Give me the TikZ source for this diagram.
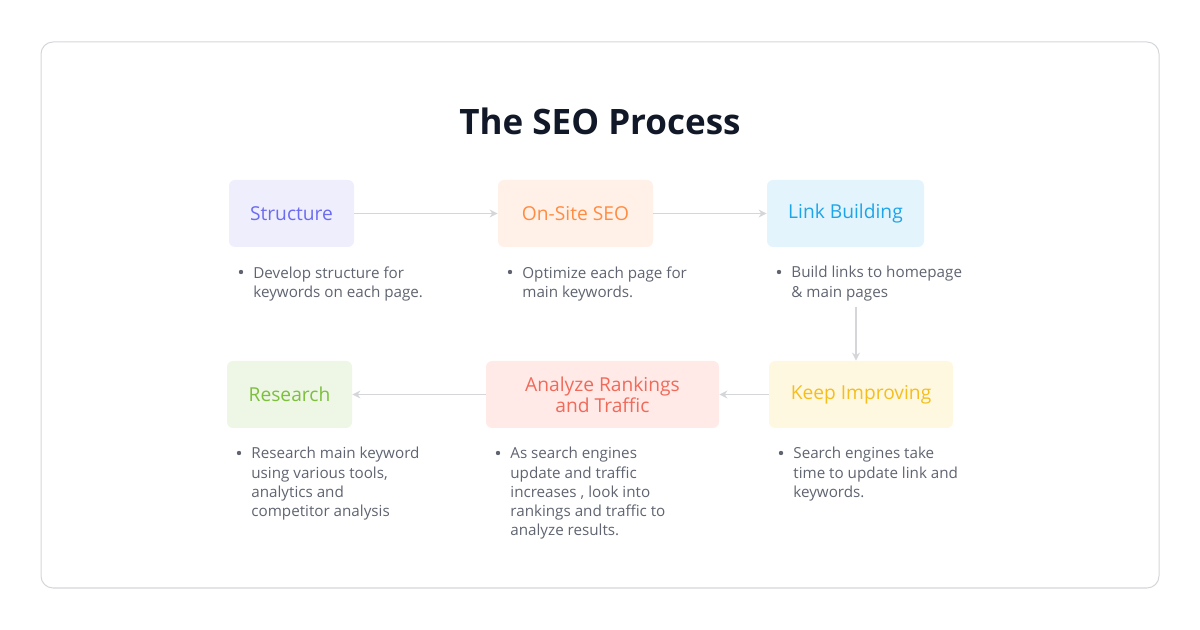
\documentclass[tikz,border=0pt]{standalone}
\usepackage{fontspec}
\setmainfont{Open Sans}
\usetikzlibrary{arrows.meta}
\definecolor{txt}{HTML}{5F6470}
\definecolor{ln}{HTML}{D4D6DA}
\definecolor{f1}{HTML}{EEEEFC}\definecolor{c1}{HTML}{6C6CF0}
\definecolor{f2}{HTML}{FFF1E8}\definecolor{c2}{HTML}{FF8C42}
\definecolor{f3}{HTML}{E3F4FC}\definecolor{c3}{HTML}{1EA5E9}
\definecolor{f4}{HTML}{EEF6E6}\definecolor{c4}{HTML}{7CBF3C}
\definecolor{f5}{HTML}{FFEAE8}\definecolor{c5}{HTML}{F06A5A}
\definecolor{f6}{HTML}{FFF8E0}\definecolor{c6}{HTML}{F5BE1E}
\definecolor{ttl}{HTML}{111827}
\begin{document}
\begin{tikzpicture}[x=0.5pt,y=-0.5pt,
 box/.style={rounded corners=3pt,inner sep=0pt,align=center,font=\fontsize{9.6}{10.5}\selectfont},
 bul/.style={anchor=north west,inner sep=0pt,align=left,text=txt,font=\fontsize{7.6}{9.6}\selectfont},
 dot/.style={circle,fill=txt,inner sep=0pt,minimum size=2.2pt},
 arr/.style={draw=ln,line width=0.6pt,-{Stealth[length=4pt,width=4pt]}}]
\useasboundingbox (0,0) rectangle (1200,630);
\node[draw=ln,line width=0.5pt,rounded corners=6pt,minimum width=559pt,minimum height=273pt,inner sep=0pt] (frame) at (600,315) {};
\node[font=\fontsize{17.5}{20}\selectfont\bfseries,text=ttl] (title) at (600,121) {The SEO Process};
\newcommand{\bx}[6]{\node[box,fill=#4,text=#5,minimum width=#3*0.5pt,minimum height=33.5pt] (#1) at (#2) {#6};}
\bx{s}{291.5,213.5}{125}{f1}{c1}{Structure}
\bx{o}{575.5,213.5}{155}{f2}{c2}{On-Site SEO}
\bx{l}{845.5,213.5}{157}{f3}{c3}{Link Building}
\bx{r}{289.5,394.5}{125}{f4}{c4}{Research}
\bx{a}{602.5,394.5}{233}{f5}{c5}{Analyze Rankings\\and Traffic}
\bx{k}{861,394.5}{184}{f6}{c6}{Keep Improving}
\node[dot] (d1) at (241,272) {}; \node[bul] (t1) at (253,266) {Develop structure for\\keywords on each page.};
\node[dot] (d2) at (510,272) {}; \node[bul] (t2) at (522,266) {Optimize each page for\\main keywords.};
\node[dot] (d3) at (779,272) {}; \node[bul] (t3) at (791,266) {Build links to homepage\\\& main pages};
\node[dot] (d4) at (239,453) {}; \node[bul] (t4) at (251,447) {Research main keyword\\using various tools,\\analytics and\\competitor analysis};
\node[dot] (d5) at (498,453) {}; \node[bul] (t5) at (510,447) {As search engines\\update and traffic\\increases , look into\\rankings and traffic to\\analyze results.};
\node[dot] (d6) at (781,453) {}; \node[bul] (t6) at (793,447) {Search engines take\\time to update link and\\keywords.};
\coordinate (p3) at (856,307);
\draw[arr] (s) -- (o);
\draw[arr] (o) -- (l);
\draw[arr] (p3) -- (p3|-k.north);
\draw[arr] (k) -- (a);
\draw[arr] (a) -- (r);
\end{tikzpicture}
\end{document}
